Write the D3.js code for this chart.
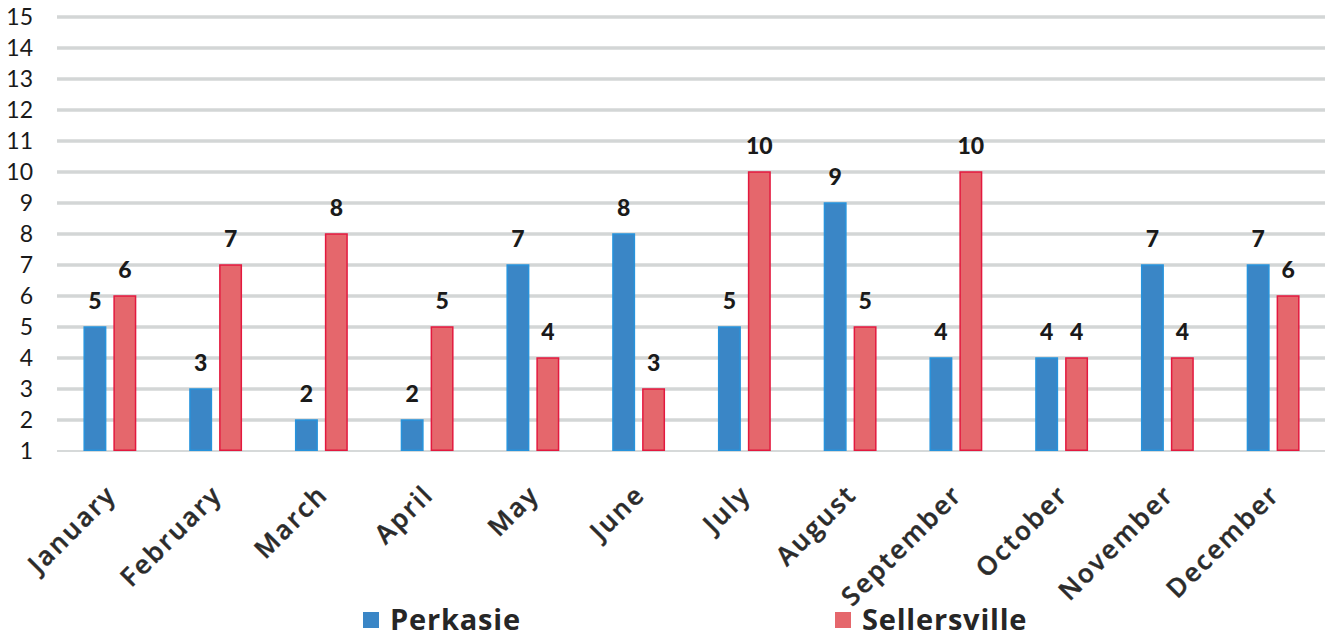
<!DOCTYPE html>
<html>
<head>
<meta charset="utf-8">
<script src="https://cdn.jsdelivr.net/npm/d3@7"></script>
<style>
  body { margin: 0; background: #fff; }
  svg { display: block; font-family: Lato, "Open Sans", sans-serif; }
</style>
</head>
<body>
<script>
const months = ["January", "February", "March", "April", "May", "June",
  "July", "August", "September", "October", "November", "December"];
const seriesNames = ["Perkasie", "Sellersville"];
const perkasie = [5, 3, 2, 2, 7, 8, 5, 9, 4, 4, 7, 7];
const sellersville = [6, 7, 8, 5, 4, 3, 10, 5, 10, 4, 4, 6];
const yTicks = d3.range(1, 16);

const width = 1327;
const height = 639;

const data = months.map((m, i) => ({month: m, Perkasie: perkasie[i], Sellersville: sellersville[i]}));

const x0 = d3.scaleBand()
    .domain(months)
    .range([57, 1326])
    .paddingInner(0.5)
    .paddingOuter(0.25);

const x1 = d3.scaleBand()
    .domain(seriesNames)
    .range([0, x0.bandwidth()])
    .paddingInner(0.233);

const y = d3.scaleLinear()
    .domain([1, 15])
    .range([451, 17]);

const fill = d3.scaleOrdinal().domain(seriesNames).range(["#3a86c6", "#e5676c"]);
const stroke = d3.scaleOrdinal().domain(seriesNames).range(["#2793dc", "#e3193e"]);

const svg = d3.select("body")
  .append("svg")
    .attr("width", width)
    .attr("height", height)
    .attr("viewBox", [0, 0, width, height]);

// gridlines
svg.append("g")
  .selectAll("line")
  .data(yTicks.filter(d => d > 1))
  .join("line")
    .attr("x1", 57)
    .attr("x2", 1325)
    .attr("y1", d => y(d))
    .attr("y2", d => y(d))
    .attr("stroke", "#d3d6d6")
    .attr("stroke-width", 3.5);

svg.append("line")
    .attr("x1", 57)
    .attr("x2", 1325)
    .attr("y1", y(1))
    .attr("y2", y(1))
    .attr("stroke", "#c8cccc")
    .attr("stroke-width", 1.5);

// y labels
svg.append("g")
  .selectAll("text")
  .data(yTicks)
  .join("text")
    .attr("x", 33)
    .attr("y", d => y(d))
    .attr("dy", "0.36em")
    .attr("text-anchor", "end")
    .attr("font-size", 23)
    .attr("fill", "#1a1a1a")
    .text(d => d);

// bars
const groups = svg.append("g")
  .selectAll("g")
  .data(data)
  .join("g")
    .attr("transform", d => `translate(${x0(d.month)},0)`);

groups.selectAll("rect")
  .data(d => seriesNames.map(k => ({key: k, value: d[k]})))
  .join("rect")
    .attr("x", d => x1(d.key) + 0.75)
    .attr("y", d => y(d.value))
    .attr("width", x1.bandwidth() - 1.5)
    .attr("height", d => y(1) - y(d.value) - 0.75)
    .attr("fill", d => fill(d.key))
    .attr("stroke", d => stroke(d.key))
    .attr("stroke-width", 1.5);

groups.selectAll("text")
  .data(d => seriesNames.map(k => ({key: k, value: d[k]})))
  .join("text")
    .attr("x", d => x1(d.key) + x1.bandwidth() / 2)
    .attr("y", d => y(d.value) - 18)
    .attr("text-anchor", "middle")
    .attr("font-size", 23)
    .attr("font-weight", "900")
    .attr("fill", "#1a1a1a")
    .text(d => d.value);

// x labels
svg.append("g")
  .selectAll("text")
  .data(months)
  .join("text")
    .attr("transform", d => `translate(${x0(d) + x0.bandwidth() / 2 + 8},496) rotate(-45)`)
    .attr("text-anchor", "end")
    .attr("font-family", "'Open Sans', sans-serif")
    .attr("font-size", 26)
    .attr("font-weight", 600)
    .attr("letter-spacing", 2.2)
    .attr("fill", "#2b2b2b")
    .attr("stroke", "#2b2b2b")
    .attr("stroke-width", 0.4)
    .text(d => d);

// legend
const legendX = [363, 835];
const legend = svg.append("g")
  .selectAll("g")
  .data(seriesNames)
  .join("g")
    .attr("transform", (d, i) => `translate(${legendX[i]},612)`);

legend.append("rect")
    .attr("width", 16)
    .attr("height", 16)
    .attr("fill", d => fill(d));

legend.append("text")
    .attr("x", 27)
    .attr("y", 18)
    .attr("font-family", "'Open Sans', sans-serif")
    .attr("font-size", 29)
    .attr("font-weight", "bold")
    .attr("letter-spacing", 0.8)
    .attr("fill", "#262626")
    .text(d => d);
</script>
</body>
</html>
